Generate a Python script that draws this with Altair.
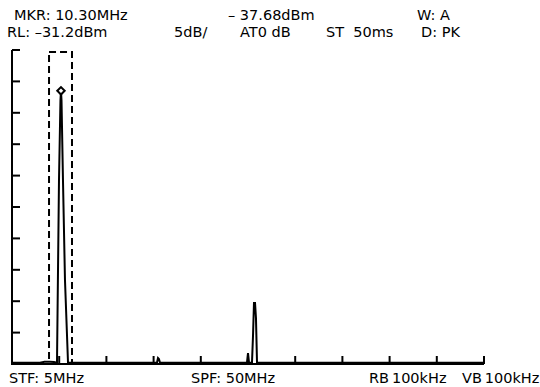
import altair as alt
import pandas as pd

# ---- data ----
# spectrum trace: frequency (MHz) and level (dBm)
trace_freq = [5.0, 7.67, 8.1, 8.62, 9.0, 9.29, 9.48, 9.62, 9.67, 9.72, 9.86, 10.05, 10.34,
              12.0, 15.0, 18.82, 18.92, 19.01, 19.11, 22.0, 25.0, 27.40, 27.50, 27.60,
              27.88, 27.98, 28.07, 28.17, 28.26, 28.36, 32.0, 40.0, 50.0]
trace_dbm = [-81.0, -81.0, -80.85, -80.85, -80.9, -81.0, -51.9, -39.2, -37.7, -39.2, -51.9, -67.8, -81.0,
             -81.0, -81.0, -81.0, -80.25, -80.4, -81.0, -81.0, -81.0, -81.0, -79.45, -81.0,
             -81.0, -76.6, -71.5, -71.5, -73.9, -81.0, -81.0, -81.0, -81.0]

marker_freq = [9.67]
marker_dbm = [-37.7]

window_f1 = [8.53]
window_f2 = [10.72]

ref_level = -31.2
db_per_div = 5
start_f = 5.0
stop_f = 50.0
divs = 10

y_ticks = [ref_level - db_per_div * k for k in range(0, divs)]
x_ticks = [start_f + (stop_f - start_f) / divs * k for k in range(1, divs + 1)]

labels_top1 = ["MKR: 10.30MHz", "– 37.68dBm", "W: A"]
labels_top2 = ["RL: –31.2dBm", "5dB/", "AT0 dB", "ST\u00a0\u00a050ms", "D: PK"]
labels_bottom = ["STF: 5MHz", "SPF: 50MHz", "RB\u2009100kHz", "VB\u2009100kHz"]

W, H = 472, 314
FONT = "DejaVu Sans"
FS = 14.5

xs = alt.Scale(domain=[start_f, stop_f], nice=False, zero=False)
ys = alt.Scale(domain=[ref_level - db_per_div * divs, ref_level], nice=False, zero=False)

trace_df = pd.DataFrame({"f": trace_freq, "l": trace_dbm})
trace = alt.Chart(trace_df).mark_line(color="black", strokeWidth=2, strokeJoin="miter").encode(
    x=alt.X("f:Q", scale=xs, axis=None),
    y=alt.Y("l:Q", scale=ys, axis=None),
    order="f:Q",
)

marker = alt.Chart(pd.DataFrame({"f": marker_freq, "l": marker_dbm})).mark_point(
    shape="diamond", filled=True, fill="white", stroke="black", strokeWidth=2, size=55, opacity=1
).encode(x=alt.X("f:Q", scale=xs, axis=None), y=alt.Y("l:Q", scale=ys, axis=None))

window = alt.Chart(pd.DataFrame({"f": window_f1, "f2": window_f2})).mark_rect(
    fill=None, stroke="black", strokeWidth=2, strokeDash=[7, 4]
).encode(
    x=alt.X("f:Q", scale=xs, axis=None), x2="f2:Q",
    y=alt.value(2), y2=alt.value(H),
)

yt = alt.Chart(pd.DataFrame({"l": y_ticks})).mark_rule(color="black", strokeWidth=2).encode(
    y=alt.Y("l:Q", scale=ys, axis=None), x=alt.value(0), x2=alt.value(8)
)
xt = alt.Chart(pd.DataFrame({"f": x_ticks})).mark_rule(color="black", strokeWidth=2).encode(
    x=alt.X("f:Q", scale=xs, axis=None), y=alt.value(H), y2=alt.value(H - 8)
)
left_axis = alt.Chart(pd.DataFrame({"a": [0]})).mark_rule(color="black", strokeWidth=2).encode(
    x=alt.value(0), y=alt.value(0), y2=alt.value(H + 1)
)
bottom_axis = alt.Chart(pd.DataFrame({"a": [0]})).mark_rule(color="black", strokeWidth=2).encode(
    x=alt.value(-1), x2=alt.value(W), y=alt.value(H)
)


def label(t, x, y):
    return alt.Chart(pd.DataFrame({"t": [t]})).mark_text(
        font=FONT, fontSize=FS, align="left", baseline="alphabetic", color="black"
    ).encode(x=alt.value(x), y=alt.value(y), text="t:N")


texts = [
    label(labels_top1[0], 2, -30),
    label(labels_top1[1], 216, -30),
    label(labels_top1[2], 405, -30),
    label(labels_top2[0], -5, -13),
    label(labels_top2[1], 162, -13),
    label(labels_top2[2], 228, -13),
    label(labels_top2[3], 314, -13),
    label(labels_top2[4], 409, -13),
    label(labels_bottom[0], -3, 333),
    label(labels_bottom[1], 179, 333),
    label(labels_bottom[2], 357, 333),
    label(labels_bottom[3], 450, 333),
]

chart = alt.layer(window, trace, yt, xt, left_axis, bottom_axis, marker, *texts).properties(
    width=W, height=H,
    background="white",
    autosize=alt.AutoSizeParams(type="none"),
    padding={"left": 12, "top": 50, "right": 56, "bottom": 23},
).configure_view(strokeWidth=0, stroke=None)

chart.save("out.html", embed_options={"renderer": "svg", "actions": False})
